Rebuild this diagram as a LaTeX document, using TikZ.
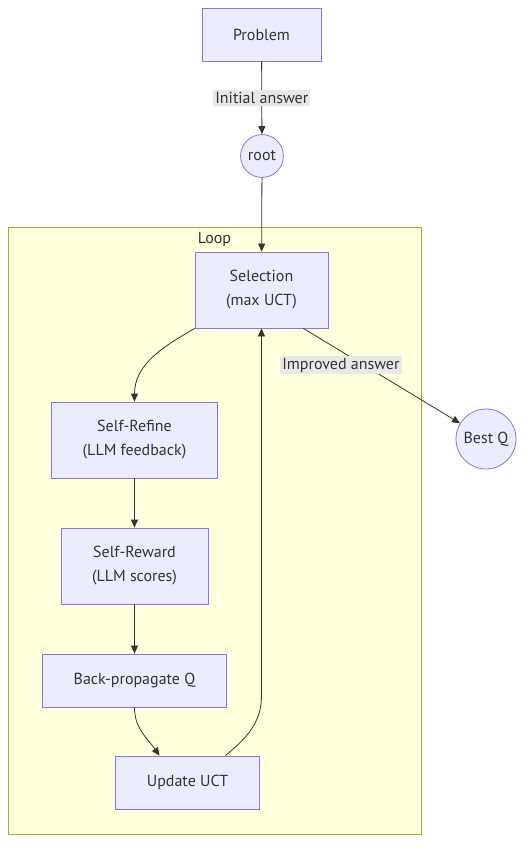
\documentclass[tikz,border=0pt]{standalone}
\usepackage{fontspec}
\setmainfont{PT Sans}
\usetikzlibrary{arrows.meta,calc}
\definecolor{nodefill}{HTML}{ECECFF}
\definecolor{nodeline}{HTML}{9370DB}
\definecolor{loopfill}{HTML}{FFFFDE}
\definecolor{loopline}{HTML}{AAAA33}
\definecolor{inkgray}{HTML}{333333}
\definecolor{labelfill}{HTML}{E8E8E8}
\begin{document}
\begin{tikzpicture}[x=1pt, y=-1pt, >={Triangle[length=8pt,width=7pt]},
    every node/.style={text=inkgray, font=\fontsize{16}{24}\selectfont},
    stepbox/.style={draw=nodeline, fill=nodefill, line width=0.8pt, inner xsep=31pt, minimum height=53pt, align=center},
    twobox/.style={stepbox, minimum height=76pt},
    roundbox/.style={circle, draw=nodeline, fill=nodefill, line width=0.8pt, inner sep=5pt},
    edgelabel/.style={fill=labelfill, inner sep=2pt},
    flow/.style={->, draw=inkgray, line width=0.8pt}]
  \useasboundingbox (0,0) rectangle (532,855);
  % the Loop cluster
  \draw[fill=loopfill, draw=loopline, line width=0.8pt] (8,227) rectangle (421,834);
  \node (looplabel) at (214.5,239.5) {Loop};

  \node[stepbox] (problem) at (261.5,34.5) {Problem};
  \node[roundbox] (root) at (262,156) {root};
  \node[twobox] (selection) at (261.5,290) {Selection\\(max UCT)};
  \node[twobox] (refine) at (134.5,440) {Self-Refine\\(LLM feedback)};
  \node[twobox] (reward) at (134.5,566) {Self-Reward\\(LLM scores)};
  \node[stepbox] (backprop) at (134.5,680.5) {Back-propagate Q};
  \node[stepbox] (update) at (187.5,782.5) {Update UCT};
  \node[roundbox] (bestq) at (486,439) {Best Q};

  \draw[flow] (problem) -- node[edgelabel] {Initial answer} (root);
  \draw[flow] (root) -- (selection);
  \draw[flow] (selection.south west) to[out=-150, in=90] (refine.north);
  \draw[flow] (refine) -- (reward);
  \draw[flow] (reward) -- (backprop);
  \draw[flow] (backprop.south) to[out=-90, in=125] ([xshift=-28pt]update.north);
  \draw[flow] ([xshift=38pt]update.north) to[out=40, in=-90] ($(update.north -| selection.south)+(0,-60)$) -- (selection.south);
  \draw[flow] ([xshift=-25pt]selection.south east) -- node[edgelabel, pos=0.24, yshift=-14pt] {Improved answer} (bestq);
\end{tikzpicture}
\end{document}
